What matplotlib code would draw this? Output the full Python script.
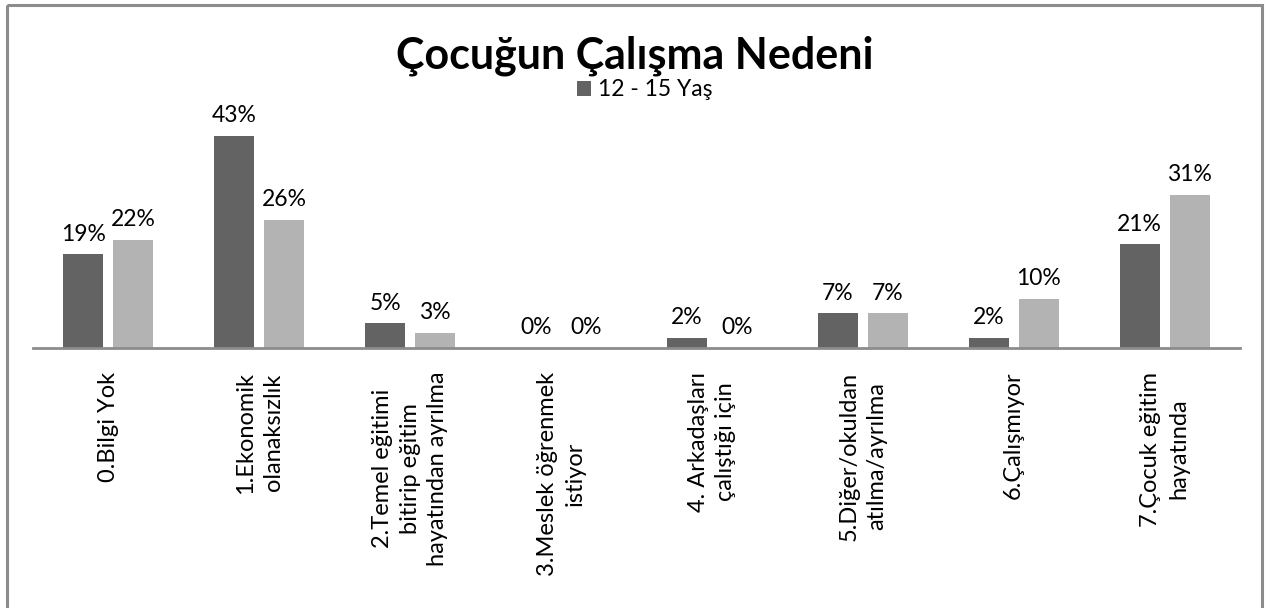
import matplotlib
matplotlib.use("Agg")
import matplotlib.pyplot as plt
from matplotlib.patches import Rectangle, Patch
import numpy as np

plt.rcParams['font.family'] = ['Lato', 'DejaVu Sans']

title = "Çocuğun Çalışma Nedeni"
categories = [
    "0.Bilgi Yok",
    "1.Ekonomik\nolanaksızlık",
    "2.Temel eğitimi\nbitirip eğitim\nhayatından ayrılma",
    "3.Meslek öğrenmek\nistiyor",
    "4. Arkadaşları\nçalıştığı için",
    "5.Diğer/okuldan\natılma/ayrılma",
    "6.Çalışmıyor",
    "7.Çocuk eğitim\nhayatında",
]
series_names = ["12 - 15 Yaş", "Diğer"]
values_a = [0.19, 0.43, 0.05, 0.00, 0.02, 0.07, 0.02, 0.21]
values_b = [0.22, 0.26, 0.03, 0.00, 0.00, 0.07, 0.10, 0.31]
colors = ["#636363", "#b3b3b3"]

W, H = 1280, 608
fig = plt.figure(figsize=(W / 100, H / 100), dpi=100)

# outer chart border
fig.add_artist(Rectangle((7 / W, 1 - 5 / H), (1262 - 7) / W, -(612 - 5) / H,
                         transform=fig.transFigure, fill=False,
                         edgecolor="#8c8c8c", linewidth=2.2, clip_on=False))

ax = fig.add_axes([33 / W, (H - 348) / H, (1240 - 33) / W, 246.5 / H])
x = np.arange(len(categories))
bw = 0.265
off = 0.166
bars_a = ax.bar(x - off, values_a, bw, color=colors[0], label=series_names[0])
bars_b = ax.bar(x + off, values_b, bw, color=colors[1], label=series_names[1])

for bars, vals in ((bars_a, values_a), (bars_b, values_b)):
    for b, v in zip(bars, vals):
        ax.annotate(f"{round(v * 100):.0f}%", (b.get_x() + b.get_width() / 2, v),
                    xytext=(0, 7), textcoords="offset points",
                    ha="center", va="bottom", fontsize=16.5, color="black")

ax.set_xlim(-0.5, len(categories) - 0.5)
ax.set_ylim(0, 0.5)
ax.set_yticks([])
ax.set_xticks(x)
ax.set_xticklabels(categories, rotation=90, ha="center", va="top",
                   multialignment="center", fontsize=17, linespacing=1.4)
ax.tick_params(axis="x", length=0, pad=17)
for s in ("top", "right", "left"):
    ax.spines[s].set_visible(False)
ax.spines["bottom"].set_color("#8c8c8c")
ax.spines["bottom"].set_linewidth(2)

fig.text(635 / W, 1 - 56 / H, title, ha="center", va="center",
         fontsize=31, fontweight="bold", color="black")
handles = [Patch(facecolor=colors[0], label=series_names[0])]
fig.legend(handles=handles, loc="center", bbox_to_anchor=(645 / W, 1 - 90 / H),
           frameon=False, fontsize=16.5, handlelength=0.6, handleheight=0.6,
           handletextpad=0.3, borderpad=0)

fig.savefig("out.png", dpi=100)
